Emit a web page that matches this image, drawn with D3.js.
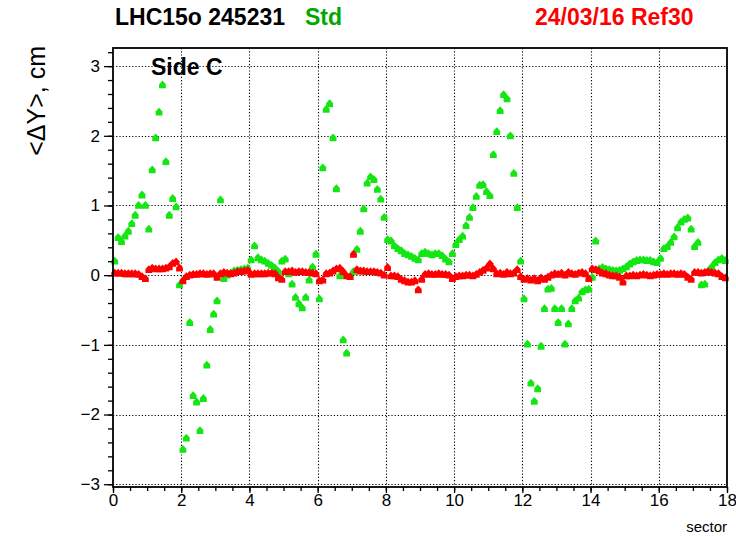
<!DOCTYPE html>
<html>
<head>
<meta charset="utf-8">
<script src="https://cdn.jsdelivr.net/npm/d3@7"></script>
<style>
  html, body { margin: 0; padding: 0; background: #fff; }
  svg { display: block; font-family: "Liberation Sans", Arial, Helvetica, sans-serif; }
</style>
</head>
<body>
<svg id="chart" width="736" height="536"></svg>
<script>
// Mean ΔY residuals per sector bin (10 bins per TPC sector, 18 sectors), side C.
const sectorTicks = [0, 2, 4, 6, 8, 10, 12, 14, 16, 18];
const dyTicks = [-3, -2, -1, 0, 1, 2, 3];
const binsPerSector = 10;

// "Std" reconstruction
const stdDY = [
  0.20, 0.54, 0.48, 0.56, 0.63, 0.74, 0.86, 1.00, 1.15, 1.00,
  0.66, 1.51, 1.97, 2.34, 2.73, 1.63, 0.86, 1.10, 0.98, -0.14,
  -2.50, -2.34, -0.68, -1.73, -1.82, -2.23, -1.77, -1.29, -0.78, -0.56,
  -0.37, 1.08, -0.05, 0.00, 0.03, 0.06, 0.07, 0.08, 0.09, 0.10,
  0.22, 0.42, 0.25, 0.22, 0.20, 0.17, 0.14, 0.10, 0.05, 0.20,
  0.23, 0.02, -0.13, -0.32, -0.41, -0.47, -0.32, -0.07, 0.12, 0.30,
  -0.34, 1.54, 2.38, 2.46, 1.97, 1.24, -0.01, -0.93, -1.12, -0.02,
  0.05, 0.37, 0.63, 0.95, 1.32, 1.41, 1.37, 1.23, 1.09, 0.83,
  0.51, 0.49, 0.42, 0.38, 0.35, 0.31, 0.29, 0.27, 0.24, 0.22,
  0.31, 0.33, 0.31, 0.29, 0.31, 0.31, 0.28, 0.23, 0.19, 0.31,
  0.44, 0.51, 0.56, 0.71, 0.83, 0.97, 1.13, 1.29, 1.30, 1.20,
  1.14, 1.73, 2.06, 2.36, 2.59, 2.53, 2.00, 1.46, 0.97, 0.20,
  -0.34, -0.99, -1.55, -1.81, -1.63, -1.02, -0.48, -0.20, -0.19, -0.48,
  -0.68, -0.48, -0.99, -0.70, -0.48, -0.37, -0.33, -0.24, -0.21, -0.20,
  -0.03, 0.49, 0.09, 0.11, 0.09, 0.08, 0.07, 0.06, 0.07, 0.09,
  0.12, 0.16, 0.19, 0.21, 0.22, 0.22, 0.21, 0.21, 0.19, 0.18,
  0.24, 0.38, 0.41, 0.47, 0.55, 0.68, 0.76, 0.80, 0.82, 0.66,
  0.41, 0.47, -0.14, -0.13, 0.06, 0.12, 0.18, 0.22, 0.24, 0.21
];

// "Ref30" reconstruction
const refDY = [
  0.03, 0.03, 0.03, 0.02, 0.02, 0.02, 0.02, 0.01, -0.02, -0.05,
  0.08, 0.10, 0.09, 0.09, 0.09, 0.10, 0.12, 0.17, 0.19, 0.10,
  -0.08, -0.02, 0.00, 0.01, 0.01, 0.02, 0.02, 0.01, 0.02, 0.02,
  -0.03, 0.02, 0.04, 0.03, 0.02, 0.03, 0.05, 0.05, 0.06, 0.07,
  0.01, 0.02, 0.02, 0.02, 0.02, 0.03, 0.03, 0.02, -0.04, -0.06,
  0.05, 0.05, 0.06, 0.04, 0.05, 0.05, 0.04, 0.04, 0.03, 0.02,
  -0.08, -0.07, 0.02, 0.03, 0.06, 0.09, 0.10, 0.05, -0.01, -0.02,
  0.30, 0.08, 0.06, 0.06, 0.05, 0.05, 0.05, 0.04, 0.03, 0.00,
  0.11, -0.01, -0.01, -0.02, -0.06, -0.08, -0.10, -0.10, -0.08, -0.21,
  -0.06, 0.01, 0.02, 0.01, 0.01, 0.02, 0.01, 0.01, 0.00, -0.05,
  -0.02, -0.01, -0.01, 0.00, 0.00, -0.01, 0.01, 0.04, 0.07, 0.10,
  0.16, 0.09, 0.02, 0.03, 0.01, 0.04, 0.02, 0.03, 0.08, -0.02,
  -0.06, -0.05, -0.07, -0.05, -0.08, -0.04, -0.06, -0.03, 0.00, 0.02,
  0.01, 0.03, 0.00, 0.04, 0.02, 0.01, 0.03, 0.04, 0.02, -0.05,
  0.09, 0.08, 0.06, 0.03, 0.02, 0.00, -0.01, -0.01, -0.03, -0.10,
  -0.01, -0.01, 0.00, -0.01, 0.00, 0.01, 0.00, -0.01, 0.00, 0.01,
  0.01, 0.02, 0.01, 0.02, 0.02, 0.01, 0.02, 0.01, -0.03, -0.06,
  0.04, 0.04, 0.03, 0.04, 0.05, 0.04, 0.03, 0.02, -0.02, -0.04
];

const svg = d3.select("#chart");
const frame = { left: 113, right: 727, top: 48, bottom: 487 };

const x = d3.scaleLinear().domain([0, 18]).range([frame.left, frame.right]);
const y = d3.scaleLinear().domain([-3.04, 3.26]).range([frame.bottom, frame.top]);

// bin centre in sector units
const binX = i => (i + 0.5) / binsPerSector;

// dotted grid
const grid = svg.append("g").attr("stroke", "#000").attr("stroke-width", 1.1)
  .attr("stroke-dasharray", "1.2,2").attr("fill", "none");
grid.selectAll("line.gx").data(sectorTicks.slice(1, -1)).join("line")
  .attr("x1", d => Math.round(x(d)) + 0.5).attr("x2", d => Math.round(x(d)) + 0.5)
  .attr("y1", frame.top).attr("y2", frame.bottom);
grid.selectAll("line.gy").data(dyTicks).join("line")
  .attr("y1", d => Math.round(y(d)) + 0.5).attr("y2", d => Math.round(y(d)) + 0.5)
  .attr("x1", frame.left).attr("x2", frame.right);

// markers: small filled up-pointing shape
const marker = {
  draw(ctx, size) {
    const r = Math.sqrt(size) / 2;
    ctx.moveTo(0, -1.3 * r);
    ctx.lineTo(r, -0.2 * r);
    ctx.lineTo(r, r);
    ctx.lineTo(-r, r);
    ctx.lineTo(-r, -0.2 * r);
    ctx.closePath();
  }
};
const sym = d3.symbol().type(marker).size(46);

svg.append("g").selectAll("path").data(stdDY).join("path")
  .attr("transform", (d, i) => `translate(${x(binX(i))},${y(d)})`)
  .attr("d", sym).attr("fill", "#14e614");

svg.append("g").selectAll("path").data(refDY).join("path")
  .attr("transform", (d, i) => `translate(${x(binX(i))},${y(d)})`)
  .attr("d", sym).attr("fill", "#ff0000");

// axes
const yMinor = d3.range(-30, 33, 2).map(v => v / 10);
const xMinor = d3.range(0, 37).map(v => v / 2);
const intFmt = d3.format("d");

const axisY = svg.append("g").attr("transform", `translate(${frame.left},0)`);
axisY.call(d3.axisLeft(y).tickValues(yMinor).tickSize(5).tickFormat(""));
axisY.select(".domain").remove();
const axisYMajor = svg.append("g").attr("transform", `translate(${frame.left},0)`)
  .call(d3.axisLeft(y).tickValues(dyTicks).tickSize(9).tickPadding(4).tickFormat(intFmt));
axisYMajor.select(".domain").remove();
axisYMajor.selectAll("text").attr("font-size", 17).attr("fill", "#000");

const axisX = svg.append("g").attr("transform", `translate(0,${frame.bottom})`);
axisX.call(d3.axisBottom(x).tickValues(xMinor).tickSize(4).tickFormat(""));
axisX.select(".domain").remove();
const axisXMajor = svg.append("g").attr("transform", `translate(0,${frame.bottom})`)
  .call(d3.axisBottom(x).tickValues(sectorTicks).tickSize(6).tickPadding(1).tickFormat(intFmt));
axisXMajor.select(".domain").remove();
axisXMajor.selectAll("text").attr("font-size", 17).attr("fill", "#000");
svg.selectAll(".tick line").attr("stroke-width", 1.3);

// frame
svg.append("rect")
  .attr("x", frame.left).attr("y", frame.top)
  .attr("width", frame.right - frame.left).attr("height", frame.bottom - frame.top)
  .attr("fill", "none").attr("stroke", "#000").attr("stroke-width", 1.8);

// titles
const title = svg.append("text").attr("y", 25).attr("font-size", 23).attr("font-weight", "bold");
title.append("tspan").attr("x", 115).attr("fill", "#000").text("LHC15o 245231");
title.append("tspan").attr("x", 305).attr("fill", "#00a800").text("Std");
svg.append("text").attr("x", 535).attr("y", 25).attr("font-size", 23).attr("font-weight", "bold")
  .attr("fill", "#ff0000").text("24/03/16 Ref30");

svg.append("text").attr("x", 151).attr("y", 75).attr("font-size", 23).attr("font-weight", "bold")
  .attr("fill", "#000").text("Side C");

svg.append("text")
  .attr("transform", `translate(45,${frame.top - 2}) rotate(-90)`)
  .attr("text-anchor", "end").attr("font-size", 25).attr("fill", "#000")
  .text("<ΔY>, cm");

svg.append("text").attr("x", frame.right).attr("y", 532).attr("text-anchor", "end")
  .attr("font-size", 15).attr("fill", "#000").text("sector");
</script>
</body>
</html>
